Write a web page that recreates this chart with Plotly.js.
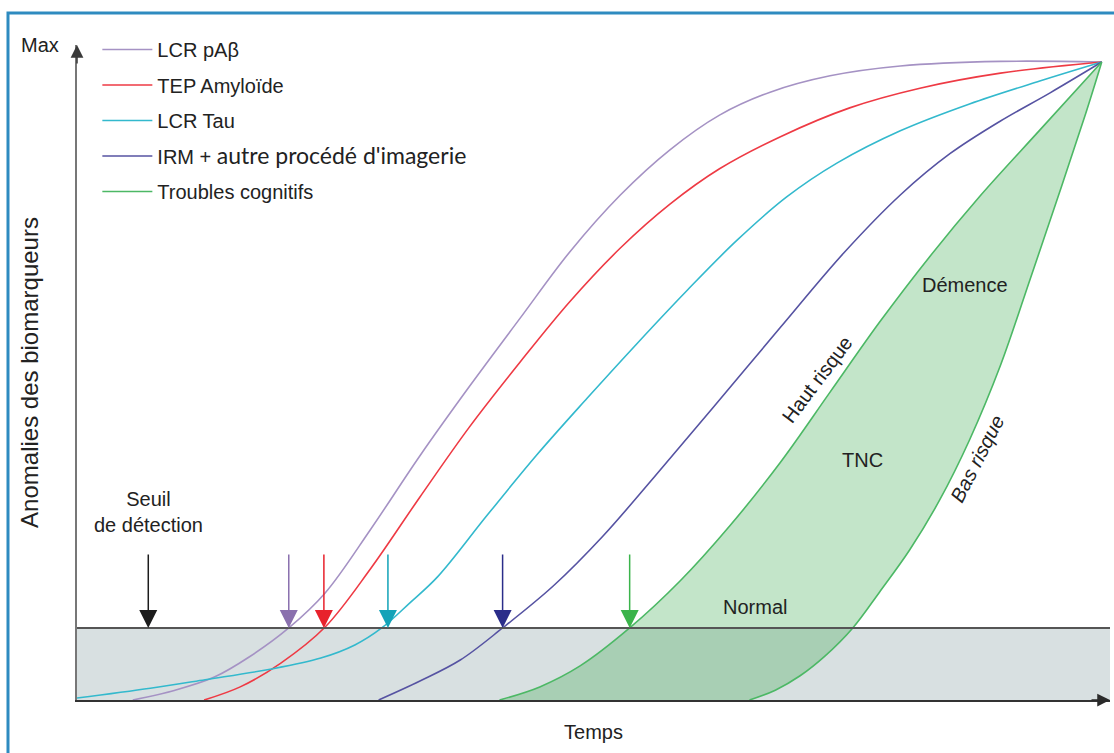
<!DOCTYPE html>
<html>
<head>
<meta charset="utf-8">
<script src="https://cdn.plot.ly/plotly-3.0.1.min.js"></script>
<style>html,body{margin:0;padding:0;background:#fff}#chart{width:1114px;height:753px}</style>
</head>
<body>
<div id="chart"></div>
<script>
// ---- data (time 0-100, biomarker abnormality 0-100) ----
const seriesNames = ['LCR pAβ', 'TEP Amyloïde', 'LCR Tau', 'IRM + autre procédé d\'imagerie', 'Troubles cognitifs'];

const pabX = [5.4, 9.5, 13.3, 16.7, 20.5, 24.0, 28.4, 33.2, 38.0, 42.9, 47.7, 52.6, 57.4, 62.2, 67.1, 72.9, 79.7, 89.4, 99.2];
const pabY = [0, 1.5, 3.5, 6.6, 11.0, 16.3, 26.0, 37.3, 47.9, 58.3, 68.4, 77.1, 84.0, 89.3, 92.8, 95.3, 96.8, 97.5, 97.4];

const tepX = [12.3, 15.8, 19.7, 24.0, 28.4, 33.2, 38.0, 42.9, 47.7, 52.6, 57.4, 62.2, 68.1, 74.8, 81.6, 89.4, 99.2];
const tepY = [0, 2.0, 5.6, 11.1, 20.0, 31.0, 41.7, 51.6, 60.8, 69.0, 75.7, 81.1, 86.0, 90.4, 93.4, 95.7, 97.4];

const tauX = [0, 7.1, 12.4, 18.7, 23.6, 26.9, 29.5, 32.2, 34.9, 39.7, 44.5, 49.4, 54.2, 59.1, 63.9, 68.7, 73.6, 79.7, 86.4, 93.2, 99.2];
const tauY = [0.3, 1.8, 3.1, 4.7, 6.4, 8.4, 11.0, 14.8, 18.8, 28.2, 37.4, 46.1, 54.4, 62.6, 70.2, 76.8, 82.0, 86.9, 91.0, 94.5, 97.4];

const irmX = [29.2, 33.2, 37.1, 41.2, 46.1, 50.9, 55.8, 61.6, 68.1, 74.2, 79.7, 84.5, 89.4, 94.2, 99.2];
const irmY = [0, 2.9, 6.1, 11.0, 17.4, 25.0, 33.9, 44.7, 56.9, 68.2, 77.1, 83.4, 88.4, 92.7, 97.4];

const cogHighX = [40.9, 44.8, 48.7, 53.5, 58.4, 63.2, 68.1, 72.9, 77.7, 82.6, 87.4, 93.2, 99.2];
const cogHighY = [0, 2.0, 5.2, 11.0, 18.2, 26.6, 36.3, 47.0, 57.7, 67.8, 76.9, 87.0, 97.4];

const cogLowX = [65.1, 67.6, 70.0, 72.4, 75.1, 77.7, 80.6, 83.5, 86.4, 89.4, 92.3, 95.2, 97.6, 99.2];
const cogLowY = [0, 1.5, 3.7, 6.7, 11.0, 16.5, 22.9, 30.5, 39.7, 51.1, 64.4, 77.9, 89.3, 97.4];

const threshold = 11;
const detectionX = [20.5, 23.9, 30.1, 41.2, 53.5];
const seuilX = 6.9;

const lineColors = ['#a592c4', '#ee3a44', '#33b9cd', '#5653a2', '#4cb865'];
const arrowColors = ['#8a70ae', '#e8222c', '#13a3b8', '#2b2d8a', '#3bb44b'];

const FONT = '"Liberation Sans", Arial, sans-serif';

const lineTrace = (x, y, i, show, name) => ({
  x, y, type: 'scatter', mode: 'lines', name: name || seriesNames[i],
  line: {color: lineColors[i], width: 1.6, shape: 'spline', smoothing: 1},
  showlegend: show, legendgroup: 'g' + i, hoverinfo: 'skip'
});

const data = [
  lineTrace(cogLowX, cogLowY, 4, false, 'Bas risque'),
  {x: cogHighX, y: cogHighY, type: 'scatter', mode: 'lines', fill: 'tonexty',
   fillcolor: 'rgba(60,170,82,0.31)', line: {width: 0, shape: 'spline', smoothing: 1},
   showlegend: false, hoverinfo: 'skip'},
  lineTrace(pabX, pabY, 0, true),
  lineTrace(tepX, tepY, 1, true),
  lineTrace(tauX, tauY, 2, true),
  lineTrace(irmX, irmY, 3, true, 'IRM + <span style="font-family:Lato;font-size:23px">autre procédé d\'imagerie</span>'),
  lineTrace(cogHighX, cogHighY, 4, true)
];

const annotations = [];
// detection arrows
detectionX.forEach((dx, i) => annotations.push({
  x: dx, y: threshold, xref: 'x', yref: 'y', text: '', showarrow: true,
  ax: 0, ay: -75, arrowhead: 2, arrowsize: 2.4, arrowwidth: 1.5, arrowcolor: arrowColors[i], standoff: 0
}));
annotations.push({x: seuilX, y: threshold, text: '', showarrow: true, ax: 0, ay: -75,
  arrowhead: 2, arrowsize: 2.4, arrowwidth: 1.5, arrowcolor: '#1c1c1c', standoff: 0});
// axis arrows
annotations.push({x: 0, y: 100, text: '', showarrow: true, ax: 0, ay: 20, arrowhead: 2,
  arrowsize: 1.7, arrowwidth: 1.5, arrowcolor: '#3a3a3a', standoff: 0});
annotations.push({x: 100, y: 0, text: '', showarrow: true, ax: -20, ay: 0, arrowhead: 2,
  arrowsize: 1.7, arrowwidth: 1.5, arrowcolor: '#2a2a2a', standoff: 0});

const txt = (text, x, y, opts) => Object.assign({text, x, y, xref: 'x', yref: 'y', showarrow: false,
  font: {family: FONT, size: 20, color: '#222'}, xanchor: 'center', yanchor: 'middle'}, opts || {});

annotations.push(txt('Max', -0.0358, 1.0, {xref: 'paper', yref: 'paper'}));
annotations.push(txt('Min', -0.0378, 0.5));
annotations.push(txt('Seuil<br>de détection', seuilX, 28.7));
annotations.push(txt('Normal', 65.6, 14.2));
annotations.push(txt('TNC', 76.0, 36.6));
annotations.push(txt('Démence', 86.0, 63.4));
annotations.push(txt('Haut risque', 71.6, 48.9, {textangle: -53}));
annotations.push(txt('<i>Bas risque</i>', 87.2, 36.9, {textangle: -63}));

const layout = {
  width: 1114, height: 753,
  margin: {l: 77, r: 4, t: 45, b: 53},
  paper_bgcolor: '#fff', plot_bgcolor: 'rgba(0,0,0,0)',
  showlegend: true,
  legend: {x: 0.0197, xanchor: 'left', y: 1.023, yanchor: 'top', bgcolor: 'rgba(0,0,0,0)',
    font: {family: FONT, size: 20, color: '#222'}, tracegroupgap: 6.5, traceorder: 'grouped', itemwidth: 50},
  xaxis: {range: [0, 100], showgrid: false, zeroline: false, showticklabels: false, ticks: '',
    showline: true, linecolor: '#333', linewidth: 2, fixedrange: true,
    title: {text: 'Temps', font: {family: FONT, size: 20, color: '#222'}, standoff: 24}},
  yaxis: {range: [0, 100], showgrid: false, zeroline: false, showticklabels: false, ticks: '',
    showline: true, linecolor: '#777', linewidth: 2, fixedrange: true,
    title: {text: 'Anomalies des biomarqueurs', font: {family: FONT, size: 24, color: '#222'}, standoff: 30}},
  shapes: [
    {type: 'rect', xref: 'x', yref: 'y', x0: 0, x1: 100, y0: 0, y1: threshold,
     fillcolor: '#d8e0e1', line: {width: 0}, layer: 'below'},
    {type: 'line', xref: 'x', yref: 'y', x0: 0, x1: 100, y0: threshold, y1: threshold,
     line: {color: '#555', width: 2}, layer: 'above'},
    {type: 'rect', xref: 'paper', yref: 'paper', x0: -0.0668, x1: 1.2, y0: -0.3, y1: 1.0489,
     line: {color: '#2e8bc0', width: 3}, fillcolor: 'rgba(0,0,0,0)', layer: 'below'}
  ],
  annotations
};

Plotly.newPlot('chart', data, layout, {displayModeBar: false, staticPlot: true});
</script>
</body>
</html>
